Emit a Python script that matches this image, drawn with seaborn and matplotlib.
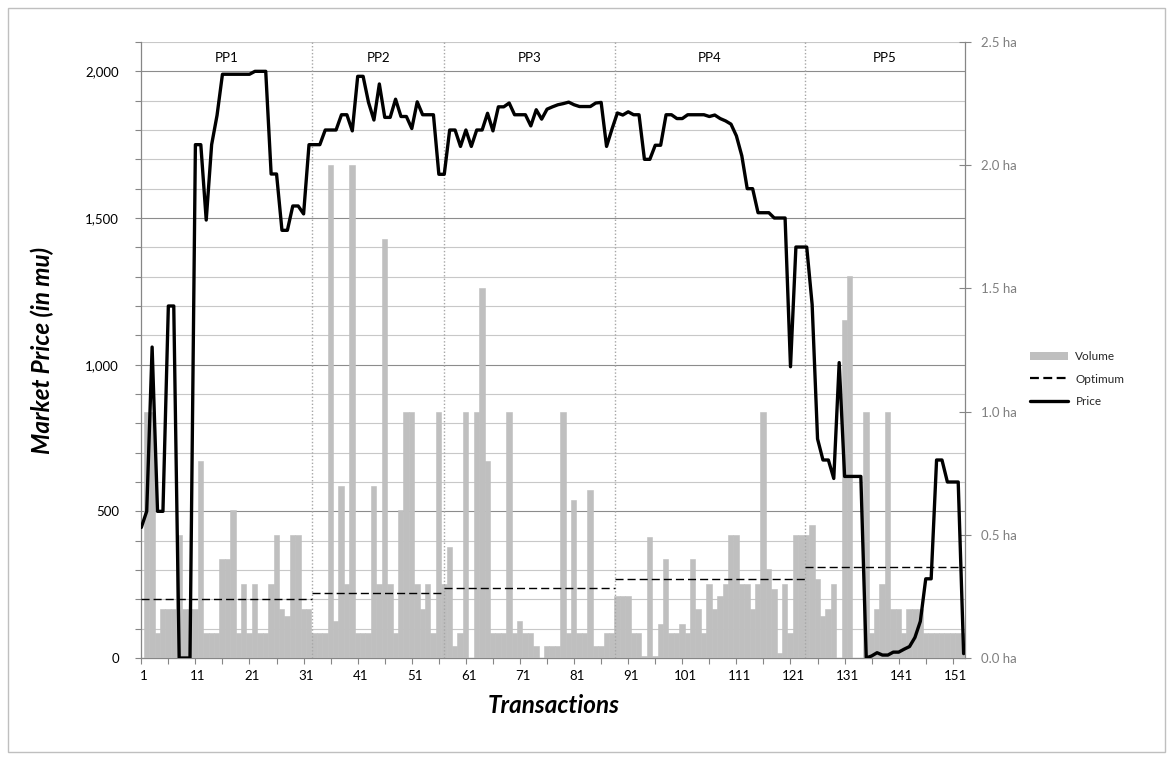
import numpy as np
import pandas as pd
import matplotlib
matplotlib.use("Agg")
import matplotlib.pyplot as plt
import seaborn as sns
from matplotlib.lines import Line2D
from matplotlib.patches import Patch, Rectangle
from matplotlib.ticker import MultipleLocator, FuncFormatter

# Land volume traded in each transaction (ha)
volume = [
    1.0, 1.0, 0.1, 0.2, 0.2, 0.2, 0.5, 0.2, 0.2, 0.2,
    0.8, 0.1, 0.1, 0.1, 0.4, 0.4, 0.6, 0.1, 0.3, 0.1,
    0.3, 0.1, 0.1, 0.3, 0.5, 0.2, 0.17, 0.5, 0.5, 0.2,
    0.2, 0.1, 0.1, 0.1, 2.0, 0.15, 0.7, 0.3, 2.0, 0.1,
    0.1, 0.1, 0.7, 0.3, 1.7, 0.3, 0.1, 0.6, 1.0, 1.0,
    0.3, 0.2, 0.3, 0.1, 1.0, 0.3, 0.45, 0.05, 0.1, 1.0,
    0.0, 1.0, 1.5, 0.8, 0.1, 0.1, 0.1, 1.0, 0.1, 0.15,
    0.1, 0.1, 0.05, 0.0, 0.05, 0.05, 0.05, 1.0, 0.1, 0.64,
    0.1, 0.1, 0.68, 0.05, 0.05, 0.1, 0.1, 0.25, 0.25, 0.25,
    0.1, 0.1, 0.01, 0.49, 0.01, 0.14, 0.4, 0.1, 0.1, 0.14,
    0.1, 0.4, 0.2, 0.1, 0.3, 0.2, 0.25, 0.3, 0.5, 0.5,
    0.3, 0.3, 0.2, 0.3, 1.0, 0.36, 0.28, 0.02, 0.3, 0.1,
    0.5, 0.5, 0.5, 0.54, 0.32, 0.17, 0.2, 0.3, 0.0, 1.37,
    1.55, 0.0, 0.0, 1.0, 0.1, 0.2, 0.3, 1.0, 0.2, 0.2,
    0.1, 0.2, 0.2, 0.2, 0.1, 0.1, 0.1, 0.1, 0.1, 0.1,
    0.1, 0.1,
]

# Market price after each transaction (mu)
price = [
    445, 500, 1060, 500, 500, 1200, 1200, 0, 0, 0,
    1750, 1750, 1493, 1750, 1850, 1990, 1990, 1990, 1990, 1990,
    1990, 2000, 2000, 2000, 1650, 1650, 1458, 1458, 1541, 1541,
    1514, 1750, 1750, 1750, 1800, 1800, 1800, 1852, 1852, 1797,
    1983, 1983, 1894, 1834, 1957, 1843, 1843, 1905, 1846, 1846,
    1805, 1896, 1852, 1852, 1852, 1649, 1649, 1800, 1800, 1744,
    1800, 1744, 1800, 1800, 1857, 1797, 1879, 1879, 1892, 1852,
    1852, 1852, 1814, 1869, 1837, 1871, 1879, 1886, 1890, 1895,
    1886, 1880, 1880, 1880, 1892, 1894, 1744, 1803, 1858, 1851,
    1862, 1852, 1852, 1700, 1700, 1748, 1748, 1852, 1852, 1839,
    1839, 1852, 1852, 1852, 1852, 1846, 1851, 1839, 1831, 1820,
    1780, 1712, 1600, 1600, 1518, 1518, 1518, 1500, 1500, 1500,
    993, 1401, 1401, 1401, 1205, 747, 675, 675, 612, 1007,
    619, 619, 619, 619, 0, 7, 18, 10, 10, 20,
    20, 30, 39, 70, 125, 270, 270, 675, 675, 600,
    600, 600, 15,
]

# Trading periods, their optimum price (mu) and where they start/end
periods = ["PP1", "PP2", "PP3", "PP4", "PP5"]
optimum = [200, 220, 240, 270, 310]
period_edges = [0.5, 32.1, 56.5, 88.0, 123.2, 152.7]

# Transaction numbers shown on the x axis
tick_labels = [1, 11, 21, 31, 41, 51, 61, 71, 81, 91, 101, 111, 121, 131, 141, 151]

sns.set_theme(style="white")
plt.rcParams["font.family"] = ["Lato", "DejaVu Sans"]

W, H = 1173, 760
fig = plt.figure(figsize=(W / 100, H / 100), dpi=100)
fig.patch.set_facecolor("white")

# plot area in pixels
x0, x1, ytop, ybot = 141.3, 964.7, 42, 658
ax = fig.add_axes([x0 / W, 1 - ybot / H, (x1 - x0) / W, (ybot - ytop) / H])
ax2 = ax.twinx()   # volume (ha)
ax3 = ax.twinx()   # price and optimum (mu)
ax.set_zorder(0)
ax2.set_zorder(1)
ax3.set_zorder(2)
for a in (ax2, ax3):
    a.patch.set_visible(False)

GRAY_BAR = "#bfbfbf"
AXIS_GRAY = "#868686"

# volume bars
vol_df = pd.DataFrame({"t": np.arange(1, len(volume) + 1) + 0.44, "ha": volume})
sns.barplot(data=vol_df, x="t", y="ha", native_scale=True, width=1.0,
            color=GRAY_BAR, saturation=1, errorbar=None,
            linewidth=0.4, edgecolor=GRAY_BAR, ax=ax2)

# price line
price_df = pd.DataFrame({"t": np.arange(len(price)) + 0.5, "mu": price})
sns.lineplot(data=price_df, x="t", y="mu", color="black", linewidth=2.4,
             ax=ax3, zorder=5)

# optimum per trading period
for i, opt in enumerate(optimum):
    ax3.hlines(opt, period_edges[i], period_edges[i + 1], colors="black",
               linewidth=1.0, linestyles=(0, (5.8, 2.9)), zorder=4)

# period separators and names
ax3.vlines(period_edges[1:-1], 0, 2100, colors="#a6a6a6",
           linestyles=(0, (1, 1.5)), linewidth=1.0, zorder=3)
for i, name in enumerate(periods):
    mid = (period_edges[i] + period_edges[i + 1]) / 2
    ax3.text(mid, 2045, name, ha="center", va="center", fontsize=9.5,
             color="black", clip_on=False)

# shared x axis
ax.set_xlim(0.5, 152.7)
ax.set_xticks(tick_labels)
ax.set_xticklabels([str(t) for t in tick_labels])
ax.set_xticks(np.arange(0.5, 153, 5), minor=True)
ax.tick_params(axis="x", which="major", length=0, pad=9, labelsize=9.5,
               labelcolor="black", bottom=True)
ax.tick_params(axis="x", which="minor", length=4, width=0.8, color=AXIS_GRAY,
               direction="out", bottom=True)
ax.set_xlabel("Transactions", fontsize=17.5, fontweight="bold",
              fontstyle="italic", color="black")
ax.xaxis.set_label_coords(0.501, -0.058)

# left axis: price
ax.set_ylim(0, 2100)
ax.yaxis.set_major_locator(MultipleLocator(500))
ax.yaxis.set_minor_locator(MultipleLocator(100))
ax.yaxis.set_major_formatter(FuncFormatter(lambda v, p: f"{v:,.0f}"))
ax.tick_params(axis="y", which="both", direction="out", length=4, width=0.8,
               color=AXIS_GRAY, left=True)
ax.tick_params(axis="y", which="major", labelsize=9.5, pad=12,
               labelcolor="black")
ax.set_ylabel("Market Price (in mu)", fontsize=17.5, fontweight="bold",
              fontstyle="italic", color="black")
ax.yaxis.set_label_coords(-0.106, 0.5)
ax.grid(False)
ax.grid(which="minor", axis="y", color="#c8c8c8", linewidth=0.8)
ax.grid(which="major", axis="y", color="#8c8c8c", linewidth=0.8)
ax.set_axisbelow(True)
for side in ("top", "right"):
    ax.spines[side].set_visible(False)
for side in ("left", "bottom"):
    ax.spines[side].set_color(AXIS_GRAY)
    ax.spines[side].set_linewidth(0.9)

# right axis: volume
ax2.set_ylim(0, 2.5)
ax2.set_yticks(np.arange(0, 2.51, 0.5))
ax2.yaxis.set_major_formatter(FuncFormatter(lambda v, p: f"{v:.1f} ha"))
ax2.tick_params(axis="y", which="major", direction="inout", length=8,
                width=0.8, color=AXIS_GRAY, labelcolor="#7f7f7f",
                labelsize=9.5, pad=8, right=True)
ax2.set_ylabel("")
ax2.set_xlabel("")
ax2.grid(False)
for side in ("top", "left", "bottom"):
    ax2.spines[side].set_visible(False)
ax2.spines["right"].set_color(AXIS_GRAY)
ax2.spines["right"].set_linewidth(0.9)

ax3.set_ylim(0, 2100)
ax3.set_yticks([])
ax3.set_ylabel("")
ax3.set_xlabel("")
ax3.grid(False)
for side in ax3.spines:
    ax3.spines[side].set_visible(False)

ax.set_xlim(0.5, 152.7)

# legend outside the plot area
handles = [
    Patch(facecolor=GRAY_BAR, edgecolor="none", label="Volume"),
    Line2D([], [], color="black", linewidth=1.6, linestyle=(0, (4, 2)),
           label="Optimum"),
    Line2D([], [], color="black", linewidth=2.4, label="Price"),
]
fig.legend(handles=handles, loc="center left",
           bbox_to_anchor=(1030 / W, 1 - 379 / H), frameon=False,
           fontsize=8.5, handlelength=3.2, handletextpad=0.65, labelspacing=0.95,
           borderpad=0, borderaxespad=0)

# chart border
fig.patches.append(Rectangle((8 / W, 8 / H), (1165 - 8) / W, (752 - 8) / H,
                             transform=fig.transFigure, fill=False,
                             edgecolor="#bfbfbf", linewidth=1.0))

fig.savefig("out.png", dpi=100)
